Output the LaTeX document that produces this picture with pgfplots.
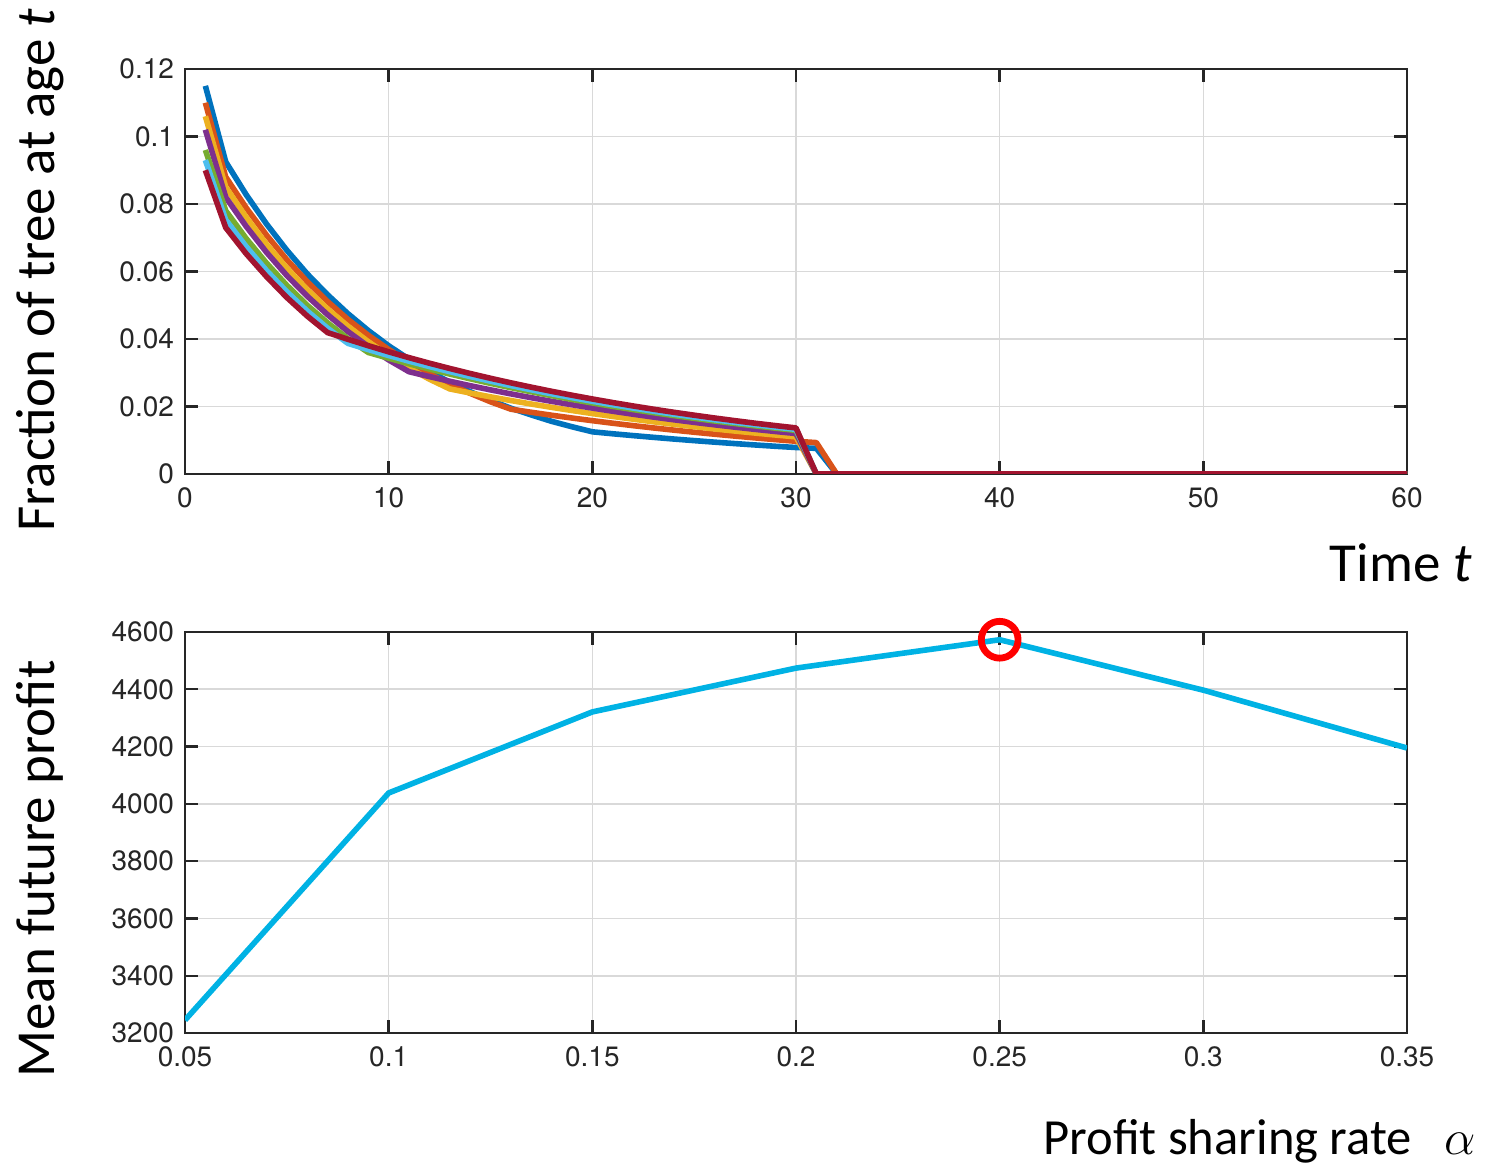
\documentclass[border=0pt]{standalone}
\usepackage{fontspec}
\setmainfont{Carlito}
\newfontfamily\helv{TeX Gyre Heros}
\usepackage{pgfplots}
\pgfplotsset{compat=1.18}

% MATLAB default line colours
\definecolor{mBlue}{rgb}{0,0.447,0.741}
\definecolor{mOrange}{rgb}{0.850,0.325,0.098}
\definecolor{mYellow}{rgb}{0.929,0.694,0.125}
\definecolor{mPurple}{rgb}{0.494,0.184,0.556}
\definecolor{mGreen}{rgb}{0.466,0.674,0.188}
\definecolor{mCyan}{rgb}{0.301,0.745,0.933}
\definecolor{mRed}{rgb}{0.635,0.078,0.184}
\definecolor{profitCyan}{RGB}{0,178,228}
\definecolor{axGray}{RGB}{38,38,38}

\pgfplotsset{
  mstyle/.style={
    scale only axis,
    anchor=south west,
    width=611pt,
    axis line style={axGray, line width=1.2pt},
    tick style={axGray, line width=1.2pt},
    tick align=inside,
    major tick length=6.5pt,
    grid=major,
    major grid style={black!15, line width=0.8pt},
    tick label style={font=\helv\fontsize{14}{15}\selectfont, text=axGray},
    xticklabel style={yshift=-3.5pt},
    yticklabel style={xshift=-2pt},
    /pgf/number format/assume math mode=true,
    /pgf/number format/1000 sep={},
    scaled ticks=false,
    every axis plot/.append style={line width=2.8pt, line join=round},
  }
}

\begin{document}
\begin{tikzpicture}[x=1pt,y=1pt]
\path[use as bounding box] (0,0) rectangle (743,584);

% Age distribution of the tree for several profit sharing rates
\begin{axis}[mstyle,
  at={(92.5pt,347pt)},
  height=202.5pt,
  xmin=0, xmax=60, ymin=0, ymax=0.12,
  xtick={0,10,20,30,40,50,60},
  ytick={0,0.02,0.04,0.06,0.08,0.1,0.12},
  yticklabels={0,0.02,0.04,0.06,0.08,0.1,0.12},
]
\addplot[mBlue] coordinates {(1,0.115)(2,0.0925)(3,0.0828)(4,0.0741)(5,0.0663)(6,0.0593)(7,0.0531)(8,0.0475)(9,0.0425)(10,0.0380)(11,0.0340)(12,0.0304)(13,0.0272)(14,0.0244)(15,0.0218)(16,0.0195)(17,0.0175)(18,0.0156)(19,0.0140)(20,0.0125)(21,0.01192)(22,0.01138)(23,0.01086)(24,0.01036)(25,0.00989)(26,0.00944)(27,0.00901)(28,0.00860)(29,0.00821)(30,0.00785)(31,0.0076)(32,0)(60,0)};
\addplot[mOrange] coordinates {(1,0.110)(2,0.0880)(3,0.0789)(4,0.0708)(5,0.0635)(6,0.0570)(7,0.0511)(8,0.0458)(9,0.0411)(10,0.0369)(11,0.0331)(12,0.0297)(13,0.0266)(14,0.0239)(15,0.0214)(16,0.0192)(17,0.01829)(18,0.01741)(19,0.01659)(20,0.01580)(21,0.01505)(22,0.01433)(23,0.01365)(24,0.01300)(25,0.01238)(26,0.01179)(27,0.01123)(28,0.01069)(29,0.01018)(30,0.00970)(31,0.0093)(32,0)(60,0)};
\addplot[mYellow] coordinates {(1,0.106)(2,0.0850)(3,0.0761)(4,0.0681)(5,0.0610)(6,0.0546)(7,0.0489)(8,0.0438)(9,0.0392)(10,0.0351)(11,0.0314)(12,0.0281)(13,0.0252)(14,0.0240)(15,0.02286)(16,0.02177)(17,0.02073)(18,0.01975)(19,0.01881)(20,0.01791)(21,0.01706)(22,0.01625)(23,0.01547)(24,0.01474)(25,0.01404)(26,0.01337)(27,0.01273)(28,0.01213)(29,0.01155)(30,0.0110)(31,0)(60,0)};
\addplot[mPurple] coordinates {(1,0.102)(2,0.0820)(3,0.0734)(4,0.0657)(5,0.0588)(6,0.0527)(7,0.0472)(8,0.0422)(9,0.0378)(10,0.0338)(11,0.0303)(12,0.02886)(13,0.02748)(14,0.02617)(15,0.02493)(16,0.02374)(17,0.02261)(18,0.02153)(19,0.02051)(20,0.01953)(21,0.01860)(22,0.01772)(23,0.01687)(24,0.01607)(25,0.01530)(26,0.01458)(27,0.01388)(28,0.01322)(29,0.01259)(30,0.01199)(31,0)(60,0)};
\addplot[mGreen] coordinates {(1,0.096)(2,0.0780)(3,0.0698)(4,0.0625)(5,0.0559)(6,0.0500)(7,0.0448)(8,0.0401)(9,0.0360)(10,0.03429)(11,0.03265)(12,0.03110)(13,0.02962)(14,0.02821)(15,0.02686)(16,0.02558)(17,0.02437)(18,0.02321)(19,0.02210)(20,0.02105)(21,0.02005)(22,0.01909)(23,0.01818)(24,0.01732)(25,0.01649)(26,0.01571)(27,0.01496)(28,0.01425)(29,0.01357)(30,0.01292)(31,0)(60,0)};
\addplot[mCyan] coordinates {(1,0.093)(2,0.0753)(3,0.0674)(4,0.0603)(5,0.0540)(6,0.0483)(7,0.0432)(8,0.0387)(9,0.03686)(10,0.03510)(11,0.03343)(12,0.03184)(13,0.03033)(14,0.02888)(15,0.02751)(16,0.02620)(17,0.02495)(18,0.02376)(19,0.02263)(20,0.02155)(21,0.02053)(22,0.01955)(23,0.01862)(24,0.01773)(25,0.01689)(26,0.01608)(27,0.01532)(28,0.01459)(29,0.01389)(30,0.01323)(31,0)(60,0)};
\addplot[mRed] coordinates {(1,0.090)(2,0.0730)(3,0.0653)(4,0.0585)(5,0.0523)(6,0.0468)(7,0.0419)(8,0.03991)(9,0.03801)(10,0.03620)(11,0.03447)(12,0.03283)(13,0.03127)(14,0.02978)(15,0.02836)(16,0.02701)(17,0.02573)(18,0.02450)(19,0.02334)(20,0.02223)(21,0.02117)(22,0.02016)(23,0.01920)(24,0.01829)(25,0.01742)(26,0.01659)(27,0.01580)(28,0.01504)(29,0.01433)(30,0.01365)(31,0)(60,0)};
\end{axis}

% Mean future profit against the profit sharing rate
\begin{axis}[mstyle,
  at={(92.5pt,67.5pt)},
  height=200.5pt,
  xmin=0.05, xmax=0.35, ymin=3200, ymax=4600,
  xtick={0.05,0.1,0.15,0.2,0.25,0.3,0.35},
  xticklabels={0.05,0.1,0.15,0.2,0.25,0.3,0.35},
  ytick={3200,3400,3600,3800,4000,4200,4400,4600},
  clip mode=individual,
]
\addplot[profitCyan] coordinates {(0.05,3245)(0.1,4038)(0.15,4321)(0.2,4474)(0.25,4573)(0.3,4397)(0.35,4195)};
\addplot[only marks, mark=o, mark size=9.2pt, mark options={red, line width=3.4pt}] coordinates {(0.25,4573)};
\end{axis}

% Axis titles
\node[rotate=90, anchor=center, font=\fontsize{27.5}{30}\selectfont] at (20,449) {Fraction of tree at age \textit{t}};
\node[rotate=90, anchor=center, font=\fontsize{27.5}{30}\selectfont] at (20,149.5) {Mean future profit};
\node[anchor=base east, inner sep=0pt, font=\fontsize{27.5}{30}\selectfont] at (736,293) {Time \textit{t}};
\node[anchor=base west, inner sep=0pt, font=\fontsize{25.3}{28}\selectfont] at (521.5,7) {Profit sharing rate};
\node[anchor=base west, inner sep=0pt, font=\fontsize{27.5}{30}\selectfont] at (722,7) {$\alpha$};
\end{tikzpicture}
\end{document}
